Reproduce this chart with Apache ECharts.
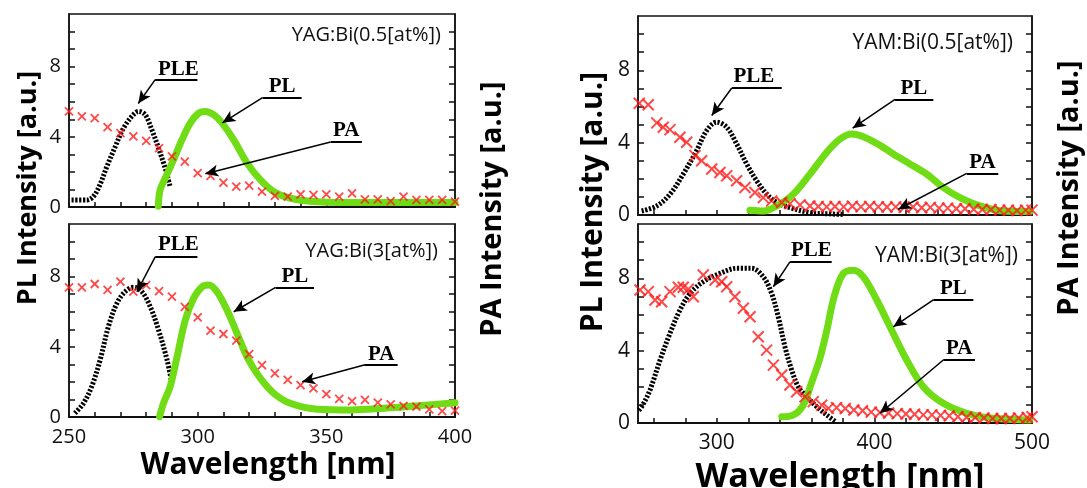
<!DOCTYPE html>
<html><head><meta charset="utf-8">
<script src="https://cdn.jsdelivr.net/npm/echarts@6/dist/echarts.min.js"></script>
<style>html,body{margin:0;padding:0;background:#fff}#c{width:1087px;height:488px}</style>
</head><body><div id="c"></div>
<script>
// ---------------- data ----------------
const YAG_X_TICKS = [250,260,270,280,290,300,310,320,330,340,350,360,370,380,390,400];
const YAG_X_LABELS = [250,300,350,400];
const YAM_X_TICKS = [260,280,300,320,340,360,380,400,420,440,460,480,500];
const YAM_X_LABELS = [300,400,500];
const Y_TICKS = [0,1,2,3,4,5,6,7,8,9,10];
const Y_LABELS = [0,4,8];
const PANEL_NAMES = ['YAG:Bi(0.5[at%])','YAG:Bi(3[at%])','YAM:Bi(0.5[at%])','YAM:Bi(3[at%])'];
const ANNOT_NAMES = ['PLE','PL','PA'];

const YAG05_PLE = [[251,0.4],[257,0.4],[259.5,0.6],[262,1.26],[264.7,2.3],[268,3.45],[271.2,4.5],[275,5.26],[277,5.45],[279.6,5.26],[282.2,4.4],[284.8,3.35],[287.4,2.2],[289.3,1.16]];
const YAG05_PL = [[284.7,0.05],[285.4,0.97],[287.4,1.64],[290.6,2.69],[293.9,3.83],[297.1,4.78],[300.4,5.35],[303,5.45],[306.2,5.26],[309.5,4.78],[314,3.83],[319.2,2.5],[324.4,1.54],[329.6,0.87],[336,0.5],[346.5,0.3],[366,0.25],[400,0.25]];
const YAG05_PA = [[250,5.45],[255,5.16],[260,5.07],[265,4.55],[270,4.21],[275,4.02],[280,3.77],[285,3.35],[290,2.88],[295,2.59],[300,1.93],[305,1.77],[310,1.39],[315,1.16],[320,1.22],[325,0.87],[330,0.63],[335,0.59],[340,0.72],[345,0.69],[350,0.72],[355,0.59],[360,0.78],[365,0.44],[370,0.44],[375,0.34],[380,0.59],[385,0.4],[390,0.4],[395,0.4],[400,0.3]];

const YAG3_PLE = [[252.3,0.21],[255.6,0.78],[258.8,1.73],[262.1,3.25],[265.3,5.15],[268.6,6.48],[271.8,7.14],[275,7.39],[278.3,7.14],[281.6,6.28],[284.8,4.96],[288.1,3.25],[290,1.92]];
const YAG3_PL = [[285.2,0.02],[286.7,0.78],[289.3,1.73],[292,3.44],[295.2,5.53],[298.4,6.76],[301.7,7.42],[304.3,7.52],[307.5,7.14],[311.4,6.1],[315.3,4.77],[319.8,3.25],[324.4,2.2],[329.6,1.35],[336,0.78],[346.5,0.44],[359.5,0.4],[372.5,0.5],[385.5,0.64],[400,0.81]];
const YAG3_PA = [[250,7.39],[255,7.39],[260,7.58],[265,7.24],[270,7.71],[275,7.14],[280,7.52],[285,7.18],[290,6.86],[295,6.28],[300,5.68],[305,4.92],[310,4.73],[315,4.35],[320,3.59],[325,2.96],[330,2.49],[335,2.11],[340,1.82],[345,1.63],[350,1.31],[355,1.03],[360,0.91],[365,0.97],[370,0.82],[375,0.72],[380,0.63],[385,0.59],[390,0.44],[395,0.34],[400,0.36]];

const YAM05_PLE = [[252.3,0.22],[261.9,0.5],[270.3,1.15],[278.7,2.26],[287.2,3.56],[293.6,4.67],[299.9,5.13],[306.3,4.85],[312.6,3.93],[319,2.81],[325.3,1.89],[331.7,1.15],[338,0.69],[346.4,0.41],[359,0.13],[369.7,0.07],[380,0.03]];
const YAM05_PL = [[321,0.26],[329.5,0.22],[338,0.5],[348.5,1.15],[359.1,2.26],[369.7,3.46],[378.2,4.2],[385.6,4.48],[393,4.33],[403.6,3.85],[412,3.37],[422,2.85],[433.2,2.26],[443.7,1.52],[454.3,0.96],[467,0.5],[481.8,0.22],[498.7,0.19]];
const YAM05_PA = [[250.8,6.18],[256.5,6.09],[261.9,5.09],[266,4.85],[270.3,4.72],[276.6,4.3],[280.9,4.02],[286.2,3.28],[290.4,3.0],[296.8,2.54],[302,2.35],[306.3,2.17],[312.6,1.89],[317.9,1.52],[324.2,1.24],[329.5,0.96],[334.8,0.78],[341.2,0.69],[346.4,0.63],[352.8,0.56],[359.1,0.5],[364.4,0.47],[369.7,0.45],[375,0.47],[380.5,0.45],[386,0.48],[391.5,0.45],[397,0.47],[402.5,0.45],[408,0.44],[413.5,0.45],[419,0.42],[424.5,0.44],[430,0.4],[435.5,0.42],[441,0.38],[446.5,0.38],[452,0.35],[457.5,0.35],[463,0.32],[468.5,0.3],[474,0.3],[479.5,0.27],[485,0.27],[490.5,0.25],[496,0.27],[500,0.27]];

const YAM3_PLE = [[250.5,0.7],[253,1.0],[257.6,1.82],[264,3.48],[270.3,4.96],[276.6,6.24],[283,7.16],[291.4,7.81],[302,8.27],[312.6,8.55],[322.1,8.55],[329.5,8.08],[334.8,7.16],[339,5.87],[343.3,4.2],[347.5,2.93],[351.7,2.0],[357,1.45],[363.4,0.9],[369.7,0.44],[375,0.1]];
const YAM3_PL = [[341.2,0.35],[348.5,0.44],[354.9,1.0],[360,2.2],[365.5,3.6],[370,5.2],[374.5,7.0],[380.3,8.27],[386.6,8.45],[393,8.08],[401.5,6.8],[409.9,5.32],[420.5,3.48],[431,2.01],[443.7,1.09],[458.6,0.54],[475.4,0.26],[498.7,0.17]];
const YAM3_PA = [[251.3,7.35],[256.5,7.26],[260.8,6.8],[265,6.7],[270.3,7.26],[275.6,7.5],[278.7,7.5],[281.9,7.39],[285.1,6.98],[291.4,8.18],[298.9,7.9],[303.1,7.81],[306.3,7.53],[311.5,6.98],[316.8,6.34],[321.1,5.87],[326.3,4.77],[331.6,4.03],[335.9,3.2],[341.2,2.65],[346.4,2.1],[350.7,1.73],[356,1.45],[361.2,1.18],[366.6,0.99],[370.8,0.81],[376,0.85],[381.5,0.8],[387,0.72],[392.5,0.68],[398,0.6],[403.5,0.58],[409,0.55],[414.5,0.52],[420,0.5],[425.5,0.48],[431,0.45],[436.5,0.45],[442,0.42],[447.5,0.4],[453,0.35],[458.5,0.32],[464,0.3],[469.5,0.28],[475,0.25],[480.5,0.25],[486,0.25],[491.5,0.28],[497,0.3],[500,0.35]];

// ---------------- layout / styles ----------------
const SANS = '"Open Sans", "Noto Sans", sans-serif';
const SERIF = '"Liberation Serif", "DejaVu Serif", serif';
const PL_GREEN = '#6fdc16';
const PA_RED = '#ff1a1a';

// annotation placement in data coordinates: [textPos, underlineStart, underlineEnd, arrowTip]
const panels = [
  {name: PANEL_NAMES[0], ple: YAG05_PLE, pl: YAG05_PL, pa: YAG05_PA, grid: {left:69, top:14, width:386, height:193},
   xmin:250, xmax:400, xticks: YAG_X_TICKS, xlabels: YAG_X_LABELS, showXLabels:false, fs:20, mk:8,
   tag:{x:441, y:35, fs:20},
   ann:[ [[292.5,7.85],[283.5,7.26],[299.9,7.26],[276.9,5.9]],
         [[332.8,6.85],[325.2,6.23],[340.4,6.23],[309.6,4.8]],
         [[357.7,4.33],[351.7,3.71],[363.8,3.71],[303,1.89]] ]},
  {name: PANEL_NAMES[1], ple: YAG3_PLE, pl: YAG3_PL, pa: YAG3_PA, grid: {left:69, top:224, width:386, height:193},
   xmin:250, xmax:400, xticks: YAG_X_TICKS, xlabels: YAG_X_LABELS, showXLabels:true, fs:20, mk:8,
   tag:{x:438, y:251, fs:20},
   ann:[ [[292.5,9.8],[283.5,9.13],[299.9,9.13],[276.4,7.14]],
         [[337.8,8.02],[330.3,7.39],[345.2,7.39],[314,6.0]],
         [[371.3,3.58],[364.7,2.96],[377.7,2.96],[340.6,2.01]] ]},
  {name: PANEL_NAMES[2], ple: YAM05_PLE, pl: YAM05_PL, pa: YAM05_PA, grid: {left:638, top:16, width:394, height:199},
   xmin:250, xmax:500, xticks: YAM_X_TICKS, xlabels: YAM_X_LABELS, showXLabels:false, fs:21, mk:11,
   tag:{x:1013, y:43, fs:21},
   ann:[ [[323.5,7.65],[309.5,7.02],[341.2,7.02],[296.8,5.5]],
         [[425,7.0],[413.1,6.39],[437.4,6.39],[386.2,4.8]],
         [[468.6,2.92],[458.6,2.3],[478.6,2.3],[415.2,0.32]] ]},
  {name: PANEL_NAMES[3], ple: YAM3_PLE, pl: YAM3_PL, pa: YAM3_PA, grid: {left:638, top:224, width:394, height:199},
   xmin:250, xmax:500, xticks: YAM_X_TICKS, xlabels: YAM_X_LABELS, showXLabels:true, fs:21, mk:11,
   tag:{x:1018, y:256, fs:21},
   ann:[ [[360,9.55],[346.4,8.91],[372.9,8.91],[335.9,7.53]],
         [[450.1,7.42],[437.4,6.8],[462.8,6.8],[412,5.32]],
         [[453.8,4.1],[443.7,3.48],[463.8,3.48],[403.6,0.54]] ]}
];

const grid = [], xAxis = [], yAxis = [], series = [], graphic = [];

panels.forEach((p, i) => {
  grid.push(Object.assign({show:true, borderColor:'#111', borderWidth:1.5, backgroundColor:'transparent'}, p.grid));
  xAxis.push({
    type:'value', gridIndex:i, min:p.xmin, max:p.xmax, position:'bottom',
    axisLine:{show:true, onZero:false, lineStyle:{color:'#111', width:2}},
    axisTick:{show:true, inside:true, length:5, customValues:p.xticks, lineStyle:{color:'#111', width:1.5}},
    axisLabel:{show:p.showXLabels, customValues:p.xlabels, margin:10, color:'#111', fontFamily:SANS, fontSize:p.fs},
    splitLine:{show:false}
  });
  yAxis.push({
    type:'value', gridIndex:i, min:0, max:11, position:'left',
    axisLine:{show:true, onZero:false, lineStyle:{color:'#111', width:1.5}},
    axisTick:{show:true, inside:true, length:6, customValues:Y_TICKS, lineStyle:{color:'#111', width:1.5}},
    axisLabel:{show:true, customValues:Y_LABELS, margin:8, color:'#111', fontFamily:SANS, fontSize:p.fs},
    splitLine:{show:false}
  });
  yAxis.push({
    type:'value', gridIndex:i, min:0, max:11, position:'right',
    axisLine:{show:true, onZero:false, lineStyle:{color:'#111', width:1.5}},
    axisTick:{show:true, inside:true, length:6, customValues:Y_TICKS, lineStyle:{color:'#111', width:1.5}},
    axisLabel:{show:false}, splitLine:{show:false}
  });

  series.push({
    type:'line', xAxisIndex:i, yAxisIndex:2*i, data:p.ple, smooth:0.35, showSymbol:false, silent:true, z:2,
    lineStyle:{color:'#000', width:5, type:[2.2,1.6]}
  });
  series.push({
    type:'line', xAxisIndex:i, yAxisIndex:2*i, data:p.pl, smooth:0.35, showSymbol:false, silent:true, z:3,
    lineStyle:{color:PL_GREEN, width:7, cap:'round'}
  });

  const lines = [], points = [];
  p.ann.forEach((a, k) => {
    points.push({name:ANNOT_NAMES[k], coord:a[0]});
    lines.push([{coord:a[1], symbol:'none', lineStyle:{width:2}}, {coord:a[2], symbol:'none'}]);
    lines.push([{coord:a[1], symbol:'none'}, {coord:a[3], symbol:'arrow'}]);
  });

  series.push({
    type:'scatter', xAxisIndex:i, yAxisIndex:2*i, data:p.pa, silent:true, z:4,
    symbol:'path://M0,0L10,10M10,0L0,10', symbolSize:p.mk,
    itemStyle:{color:'transparent', borderColor:PA_RED, borderWidth:p.mk > 9 ? 2 : 1.8},
    markLine:{silent:true, animation:false, symbolSize:[9,13], label:{show:false},
      lineStyle:{color:'#000', width:1.5, type:'solid'}, emphasis:{disabled:true}, data:lines},
    markPoint:{silent:true, animation:false, symbol:'circle', symbolSize:1, itemStyle:{color:'transparent'},
      label:{show:true, position:'inside', color:'#000', fontFamily:SERIF, fontWeight:'bold', fontSize:21,
        formatter:(d) => d.name}, data:points}
  });

  graphic.push({type:'text', x:p.tag.x, y:p.tag.y, z:10,
    style:{text:p.name, fill:'#111', font:'normal ' + p.tag.fs + 'px ' + SANS, align:'right', verticalAlign:'middle'}});
});

// axis titles
const titles = [
  {t:'PL Intensity [a.u.]', x:28, y:188, fs:27, rot:true},
  {t:'PA Intensity [a.u.]', x:493, y:209, fs:29, rot:true},
  {t:'PL Intensity [a.u.]', x:593, y:202, fs:30, rot:true},
  {t:'PA Intensity [a.u.]', x:1070, y:188, fs:29, rot:true},
  {t:'Wavelength [nm]', x:268, y:465, fs:30, rot:false},
  {t:'Wavelength [nm]', x:840, y:477, fs:34, rot:false}
];
titles.forEach(o => {
  graphic.push({type:'text', x:o.x, y:o.y, rotation:o.rot ? Math.PI/2 : 0, z:10,
    style:{text:o.t, fill:'#000', font:'bold ' + o.fs + 'px ' + SANS, align:'center', verticalAlign:'middle'}});
});

const chart = echarts.init(document.getElementById('c'), null, {renderer:'canvas'});
chart.setOption({animation:false, backgroundColor:'#fff', grid, xAxis, yAxis, series, graphic});
</script></body></html>
